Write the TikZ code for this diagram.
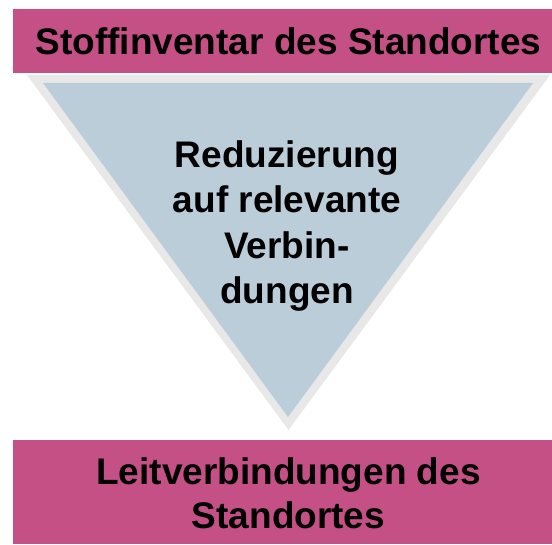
\documentclass[tikz,border=0pt]{standalone}
\usepackage{fontspec}
\setmainfont{Liberation Sans}
\definecolor{bandpink}{HTML}{C45086}
\definecolor{funnelblue}{HTML}{BBCDD9}
\definecolor{funnelrim}{HTML}{E8E8E8}
\begin{document}
\begin{tikzpicture}[x=1pt,y=1pt,
  band/.style={fill=bandpink,draw=none},
  label/.style={font=\bfseries\fontsize{37}{43.5}\selectfont,align=center,inner sep=0pt,text=black,anchor=base}]
\useasboundingbox (0,0) rectangle (552,544);
% top band
\fill[band] (13,471) rectangle (552,535);
\node[label] (top) at (288.5,489) {Stoffinventar des Standortes};
% funnel: light rim with blue core
\coordinate (rimL) at (27,469);
\coordinate (rimR) at (550,469);
\coordinate (rimT) at (288.5,114);
\fill[funnelrim] (rimL) -- (rimR) -- (rimT) -- cycle;
\coordinate (coreL) at (43,461);
\coordinate (coreR) at (533,461);
\coordinate (coreT) at (288,127);
\fill[funnelblue] (coreL) -- (coreR) -- (coreT) -- cycle;
% the base anchor of a multi-line label sits on its last line
\node[label,font=\bfseries\fontsize{37}{45.5}\selectfont] (mid) at (287,240) {Reduzierung\\auf relevante\\Verbin-\\dungen};
% bottom band
\fill[band] (13,0) rectangle (552,104);
\node[label] (bottom) at (288.5,16) {Leitverbindungen des\\Standortes};
\end{tikzpicture}
\end{document}
